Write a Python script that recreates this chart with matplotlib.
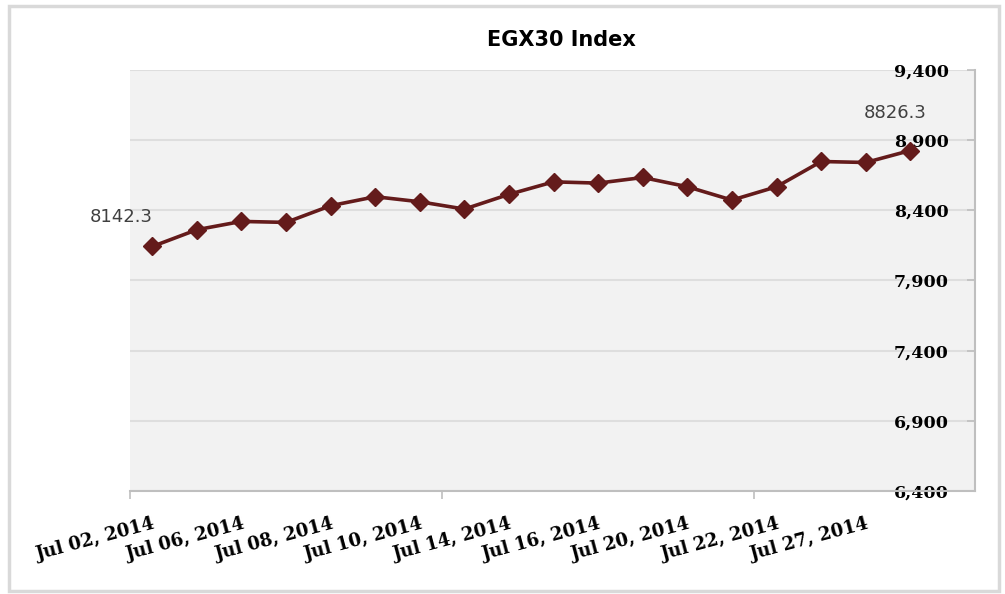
import matplotlib
matplotlib.use("Agg")
import matplotlib.pyplot as plt
from matplotlib.patches import Rectangle

# ---- data ----
dates = ["Jul 02, 2014", "Jul 03, 2014", "Jul 06, 2014", "Jul 07, 2014", "Jul 08, 2014",
         "Jul 09, 2014", "Jul 10, 2014", "Jul 13, 2014", "Jul 14, 2014", "Jul 15, 2014",
         "Jul 16, 2014", "Jul 17, 2014", "Jul 20, 2014", "Jul 21, 2014", "Jul 22, 2014",
         "Jul 24, 2014", "Jul 27, 2014", "Jul 31, 2014"]
values = [8142.3, 8262, 8321, 8314, 8433, 8497, 8461, 8409, 8514, 8603,
          8594, 8634, 8568, 8473, 8568, 8748, 8741, 8826.3]
y_ticks = [6400, 6900, 7400, 7900, 8400, 8900, 9400]
title = "EGX30 Index"

line_color = "#641B1B"
W, H = 1005, 594
fig = plt.figure(figsize=(W / 100, H / 100), dpi=100, facecolor="white")
ax = fig.add_axes([130 / W, 1 - 491 / H, 845 / W, 421 / H])
ax.set_facecolor("#F2F2F2")

x = list(range(len(values)))
ax.plot(x, values, color=line_color, lw=2.6, marker="D", markersize=9,
        markerfacecolor=line_color, markeredgecolor=line_color, zorder=3, clip_on=False)

ax.set_ylim(6400, 9400)
ax.set_xlim(-0.5, len(values) - 0.5 + 0.95)

# y axis on right, labels inside
ax.yaxis.tick_right()
ax.set_yticks(y_ticks)
ax.set_yticklabels([f"{v:,}" for v in y_ticks])
ax.tick_params(axis="y", direction="in", length=6, width=1.2, color="#BFBFBF", pad=-19)
for lab in ax.get_yticklabels():
    lab.set_horizontalalignment("right")
    lab.set_fontfamily("DejaVu Serif")
    lab.set_fontweight("bold")
    lab.set_fontsize(12.5)
    lab.set_color("#000000")
ax.grid(axis="y", color="#DEDEDE", lw=1.5, zorder=0)
ax.set_axisbelow(True)

# x axis
ax.set_xticks(x[::2])
ax.set_xticklabels(dates[::2], rotation=15, ha="right", va="top", rotation_mode="anchor",
                   fontfamily="DejaVu Serif", fontweight="bold", fontsize=13)
ax.tick_params(axis="x", which="major", length=0, pad=17)
ax.set_xticks([-0.5, 6.5, 13.5], minor=True)
ax.tick_params(axis="x", which="minor", length=6, width=1.2, color="#BFBFBF")

for s in ["left", "top"]:
    ax.spines[s].set_visible(False)
for s in ["bottom", "right"]:
    ax.spines[s].set_color("#BFBFBF")
    ax.spines[s].set_linewidth(1.5)

# data labels for first and last
ax.annotate(f"{values[0]}", (x[0], values[0]), xytext=(-22, 21), textcoords="offset points",
            ha="center", va="center", fontsize=13, color="#404040")
ax.annotate(f"{values[-1]}", (x[-1], values[-1]), xytext=(-11, 27), textcoords="offset points",
            ha="center", va="center", fontsize=13, color="#404040")

fig.text(561 / W, 1 - 40 / H, title, ha="center", va="center", fontsize=15, fontweight="bold",
         color="#000000")

# outer frame
fig.patches.append(Rectangle((9 / W, 1 - 591 / H), 990 / W, 585 / H, transform=fig.transFigure,
                             fill=False, edgecolor="#D9D9D9", lw=2.5))

fig.savefig("out.png", dpi=100, facecolor="white")
